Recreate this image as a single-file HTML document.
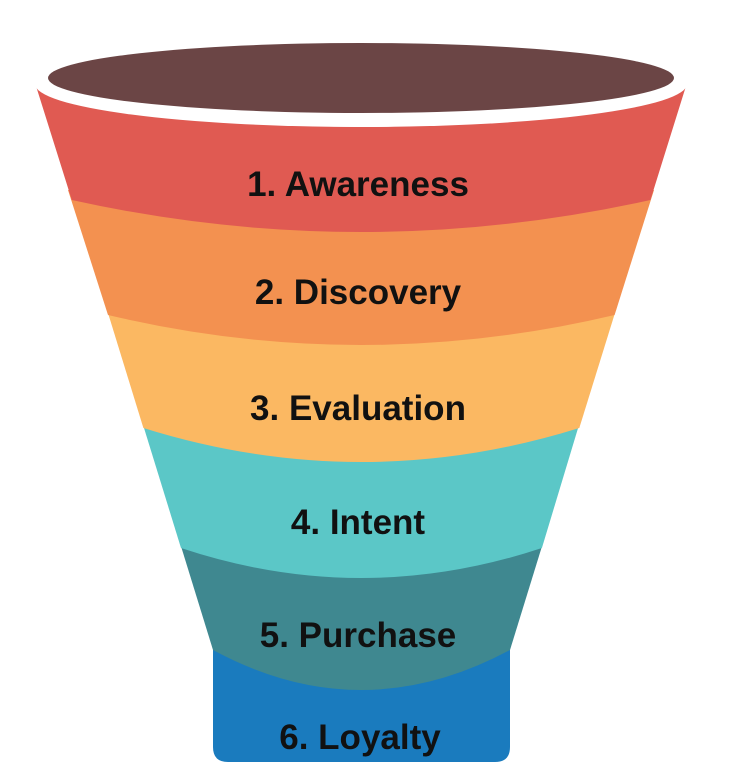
<!DOCTYPE html>
<html><head><meta charset="utf-8"><style>
html,body{margin:0;padding:0;background:#fff;width:736px;height:762px;overflow:hidden}
svg{display:block}
text{font-family:"Liberation Sans",sans-serif;font-weight:bold;font-size:35px;fill:#111;text-anchor:middle}
</style></head><body>
<svg width="736" height="762" viewBox="0 0 736 762">
<path d="M213,630 L510,630 L510,747 Q510,762 495,762 L228,762 Q213,762 213,747 Z" fill="#1A7BBE"/>
<path d="M176,530 L547,530 L510,650 Q361,730 213,650 Z" fill="#3F8890"/>
<path d="M140,415 L582,415 L541.9,548 Q361,608 181,548 Z" fill="#5BC7C7"/>
<path d="M104,300 L619,300 L579.3,428 Q361,496 143.4,428 Z" fill="#FBB862"/>
<path d="M68,190 L654,190 L614.6,315 Q361,375 108,315 Z" fill="#F39150"/>
<path d="M36,86 Q361,168 686,86 L650.4,200 Q361,264 71.8,200 Z" fill="#E05A52"/>
<ellipse cx="361" cy="84" rx="326" ry="43" fill="#fff"/>
<ellipse cx="361" cy="78" rx="313" ry="35" fill="#6B4545"/>
<text x="358" y="196">1. Awareness</text>
<text x="358" y="304">2. Discovery</text>
<text x="358" y="420">3. Evaluation</text>
<text x="358" y="534">4. Intent</text>
<text x="358" y="647">5. Purchase</text>
<text x="360" y="749">6. Loyalty</text>
</svg>
</body></html>
